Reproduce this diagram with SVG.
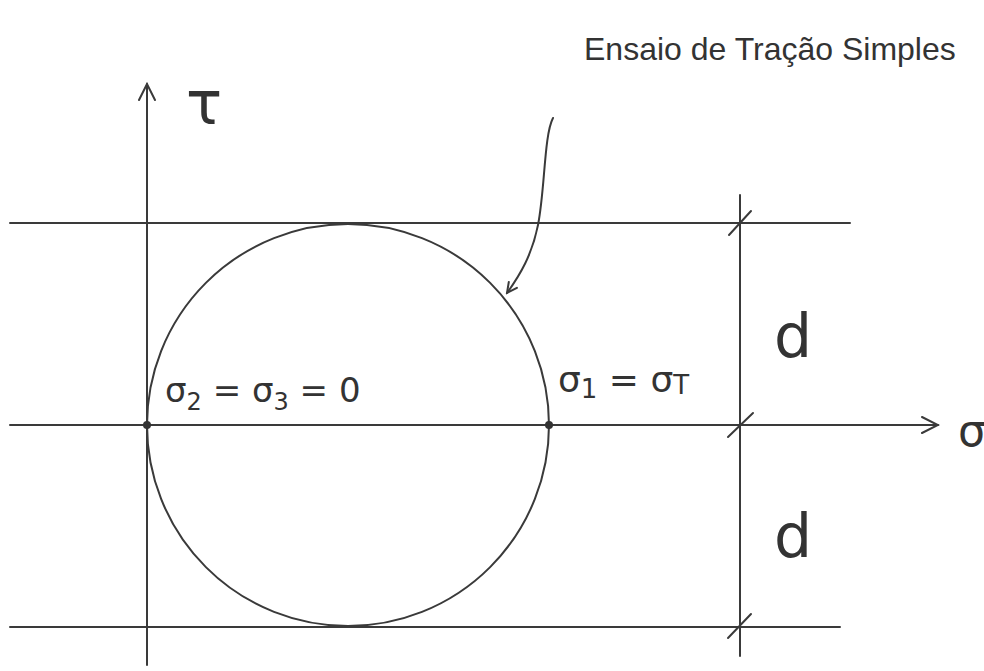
<svg xmlns="http://www.w3.org/2000/svg" width="984" height="671" viewBox="0 0 984 671">
<style>
.ln{stroke:#3a3a3a;stroke-width:2;fill:none;stroke-linecap:round}
.tx{font-family:"DejaVu Sans","Liberation Sans",sans-serif;fill:#333}
</style>
<defs>
<marker id="ah" viewBox="0 0 20 20" refX="18" refY="10" markerWidth="20" markerHeight="20" markerUnits="userSpaceOnUse" orient="auto">
<path d="M2 2 L18 10 L2 18" class="ln"/>
</marker>
<marker id="ahs" viewBox="0 0 14 14" refX="12" refY="7" markerWidth="14" markerHeight="14" markerUnits="userSpaceOnUse" orient="auto">
<path d="M2 2 L12 7 L2 12" class="ln" stroke-width="1.6"/>
</marker>
</defs>
<rect width="984" height="671" fill="#fff"/>
<g id="connectors">
<line class="ln" x1="10" y1="223" x2="850" y2="223"/>
<line class="ln" x1="10" y1="627" x2="840" y2="627"/>
<line class="ln" x1="10" y1="425" x2="938" y2="425" marker-end="url(#ah)"/>
<line class="ln" x1="147" y1="665" x2="147" y2="84" marker-end="url(#ah)"/>
<line class="ln" x1="740" y1="195" x2="740" y2="656"/>
<line class="ln" x1="729" y1="235" x2="751" y2="211"/>
<line class="ln" x1="728" y1="437" x2="753" y2="413"/>
<line class="ln" x1="728" y1="638" x2="751" y2="614"/>
<path class="ln" stroke-width="1.6" d="M553 118 C544 135 545 190 538 225 C532 255 520 275 507 293" marker-end="url(#ahs)"/>
</g>
<g id="circle">
<circle class="ln" cx="348" cy="425" r="201"/>
<circle cx="147" cy="425" r="4" fill="#333"/>
<circle cx="549" cy="425" r="4" fill="#333"/>
</g>
<g id="title"><text x="584" y="60" font-family="'Liberation Sans',Arial,sans-serif" font-size="32" fill="#333">Ensaio de Tração Simples</text></g>
<g id="tau"><text class="tx" x="186" y="124" font-size="60">τ</text></g>
<g id="label-left"><text class="tx" x="165" y="402" font-size="34">σ<tspan font-size="24" dy="8">2</tspan><tspan dy="-8"> = σ</tspan><tspan font-size="24" dy="8">3</tspan><tspan dy="-8"> = 0</tspan></text></g>
<g id="label-right"><text class="tx" x="558" y="392" font-size="36">σ<tspan font-size="26" dy="6">1</tspan><tspan dy="-6"> = σ</tspan><tspan font-size="26" dy="2">T</tspan></text></g>
<g id="d-top"><text class="tx" x="774" y="357" font-size="60">d</text></g>
<g id="d-bottom"><text class="tx" x="774" y="557" font-size="60">d</text></g>
<g id="sigma-axis"><text class="tx" x="958" y="446" font-size="44">σ</text></g>
</svg>
